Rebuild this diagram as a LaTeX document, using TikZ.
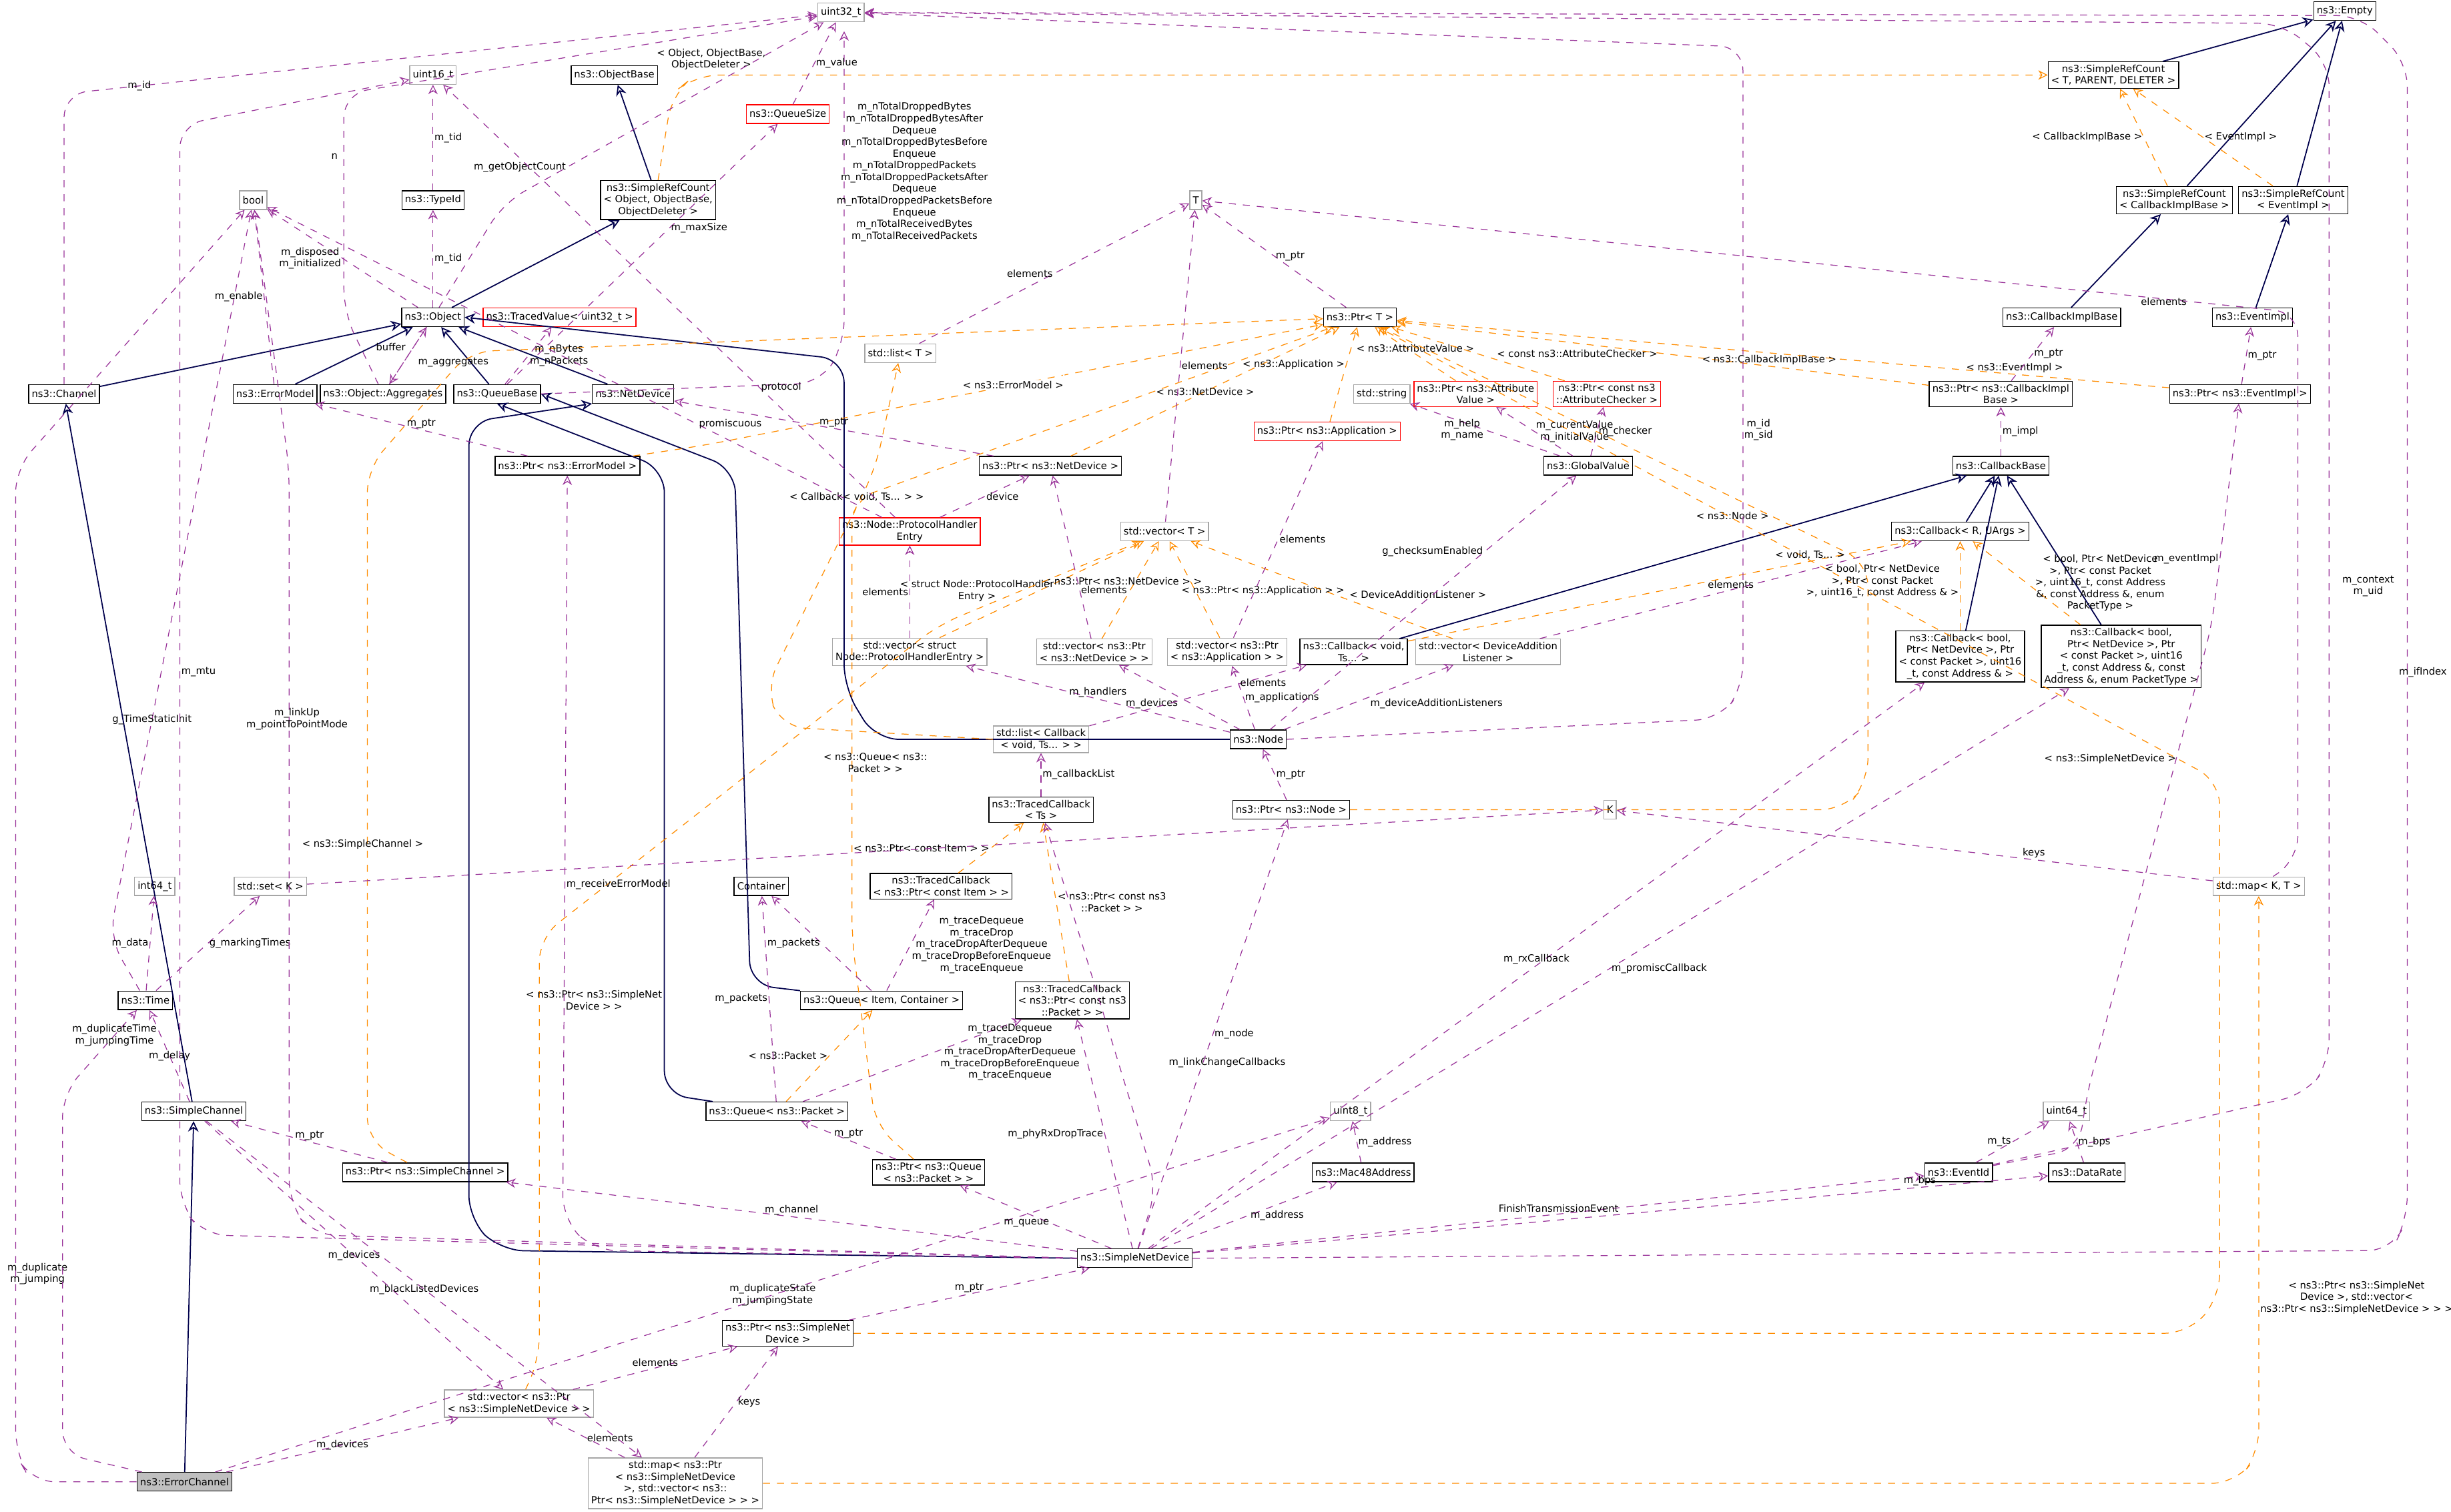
\documentclass[tikz,border=0pt]{standalone}
\usepackage{fontspec}
\setmainfont{DejaVu Sans}
\usetikzlibrary{arrows.meta}
\begin{document}
\begin{tikzpicture}[x=0.02343cm,y=-0.02343cm,
 every node/.style={font=\fontsize{4.2}{5}\selectfont},
 cls/.style={draw=black,fill=white,align=center,inner sep=1.3pt,minimum height=0.28cm,line width=0.4pt},
 gry/.style={cls,draw=gray!70},
 red/.style={cls,draw=red},
 use/.style={draw=violet!80,dashed,rounded corners=10pt,-{Stealth[open,length=4pt,width=4pt]},line width=0.35pt},
 inh/.style={draw=blue!30!black,rounded corners=10pt,-{Stealth[open,length=4.5pt,width=4.5pt]},line width=0.5pt},
 tpl/.style={draw=orange!90!yellow,dashed,rounded corners=10pt,-{Stealth[open,length=4pt,width=4pt]},line width=0.35pt},
 lbl/.style={align=center,inner sep=0.5pt}]
\useasboundingbox (0,0) rectangle (1568,967);
% nodes
\node[gry] (u32) at (538,8) {uint32\_t};
\node[cls] (empty) at (1500,7) {ns3::Empty};
\node[cls] (srcT) at (1352,48) {ns3::SimpleRefCount\\< T, PARENT, DELETER >};
\node[cls] (objbase) at (393,48) {ns3::ObjectBase};
\node[red] (qsize) at (504,73) {ns3::QueueSize};
\node[gry] (u16) at (277,48) {uint16\_t};
\node[cls] (srcObj) at (421,128) {ns3::SimpleRefCount\\< Object, ObjectBase,\\ ObjectDeleter >};
\node[gry] (bool) at (162,128) {bool};
\node[cls] (typeid) at (277,128) {ns3::TypeId};
\node[gry] (T) at (765,128) {T};
\node[cls] (srcCIB) at (1391,128) {ns3::SimpleRefCount\\< CallbackImplBase >};
\node[cls] (srcEI) at (1467,128) {ns3::SimpleRefCount\\< EventImpl >};
\node[cls] (object) at (277,203) {ns3::Object};
\node[red] (tvalue) at (358,203) {ns3::TracedValue< uint32\_t >};
\node[gry] (listT) at (576,226) {std::list< T >};
\node[cls] (ptrT) at (870,203) {ns3::Ptr< T >};
\node[cls] (cib) at (1319,203) {ns3::CallbackImplBase};
\node[cls] (eimpl) at (1441,203) {ns3::EventImpl};
\node[cls] (channel) at (41,252) {ns3::Channel};
\node[cls] (errmodel) at (176,252) {ns3::ErrorModel};
\node[cls] (aggr) at (245,252) {ns3::Object::Aggregates};
\node[cls] (qbase) at (318,252) {ns3::QueueBase};
\node[cls] (netdev) at (405,252) {ns3::NetDevice};
\node[gry] (string) at (884,252) {std::string};
\node[red] (pAV) at (944,252) {ns3::Ptr< ns3::Attribute\\Value >};
\node[red] (pAC) at (1028,252) {ns3::Ptr< const ns3\\::AttributeChecker >};
\node[cls] (pCIB) at (1280,252) {ns3::Ptr< ns3::CallbackImpl\\Base >};
\node[cls] (pEI) at (1433,252) {ns3::Ptr< ns3::EventImpl >};
\node[cls] (pEM) at (363,298) {ns3::Ptr< ns3::ErrorModel >};
\node[cls] (pND) at (672,298) {ns3::Ptr< ns3::NetDevice >};
\node[red] (pApp) at (849,276) {ns3::Ptr< ns3::Application >};
\node[cls] (gvalue) at (1016,298) {ns3::GlobalValue};
\node[cls] (cbase) at (1280,298) {ns3::CallbackBase};
\node[red] (phe) at (582,340) {ns3::Node::ProtocolHandler\\Entry};
\node[gry] (vecT) at (745,340) {std::vector< T >};
\node[cls] (cbRU) at (1254,340) {ns3::Callback< R, UArgs >};
\node[gry] (vPHE) at (582,417) {std::vector< struct\\ Node::ProtocolHandlerEntry >};
\node[gry] (vPND) at (700,417) {std::vector< ns3::Ptr\\< ns3::NetDevice > >};
\node[gry] (vPApp) at (785,417) {std::vector< ns3::Ptr\\< ns3::Application > >};
\node[cls] (cbVoid) at (866,417) {ns3::Callback< void,\\ Ts... >};
\node[gry] (vDAL) at (952,417) {std::vector< DeviceAddition\\Listener >};
\node[cls] (cbBool) at (1254,420) {ns3::Callback< bool,\\ Ptr< NetDevice >, Ptr\\< const Packet >, uint16\\\_t, const Address \& >};
\node[cls] (cbProm) at (1357,420) {ns3::Callback< bool,\\ Ptr< NetDevice >, Ptr\\< const Packet >, uint16\\\_t, const Address \&, const\\ Address \&, enum PacketType >};
\node[cls] (node) at (805,473) {ns3::Node};
\node[gry] (listCb) at (666,473) {std::list< Callback\\< void, Ts... > >};
\node[cls] (pNode) at (826,518) {ns3::Ptr< ns3::Node >};
\node[cls] (tcTs) at (666,518) {ns3::TracedCallback\\< Ts >};
\node[gry] (K) at (1030,518) {K};
\node[gry] (setK) at (173,567) {std::set< K >};
\node[gry] (i64) at (99,567) {int64\_t};
\node[gry] (mapKT) at (1445,567) {std::map< K, T >};
\node[cls] (cont) at (487,567) {Container};
\node[cls] (tcItem) at (602,567) {ns3::TracedCallback\\< ns3::Ptr< const Item > >};
\node[cls] (queueIC) at (564,640) {ns3::Queue< Item, Container >};
\node[cls] (tcPkt) at (686,640) {ns3::TracedCallback\\< ns3::Ptr< const ns3\\::Packet > >};
\node[cls] (time) at (93,640) {ns3::Time};
\node[cls] (schan) at (124,711) {ns3::SimpleChannel};
\node[cls] (queueP) at (497,711) {ns3::Queue< ns3::Packet >};
\node[gry] (u8) at (864,711) {uint8\_t};
\node[gry] (u64) at (1322,711) {uint64\_t};
\node[cls] (pSC) at (272,750) {ns3::Ptr< ns3::SimpleChannel >};
\node[cls] (pQP) at (594,750) {ns3::Ptr< ns3::Queue\\< ns3::Packet > >};
\node[cls] (mac) at (872,750) {ns3::Mac48Address};
\node[cls] (eventid) at (1253,750) {ns3::EventId};
\node[cls] (drate) at (1335,750) {ns3::DataRate};
\node[cls] (snd) at (726,805) {ns3::SimpleNetDevice};
\node[cls] (pSND) at (504,853) {ns3::Ptr< ns3::SimpleNet\\Device >};
\node[gry] (vSND) at (332,898) {std::vector< ns3::Ptr\\< ns3::SimpleNetDevice > >};
\node[gry] (mSND) at (432,949) {std::map< ns3::Ptr\\< ns3::SimpleNetDevice\\ >, std::vector< ns3::\\Ptr< ns3::SimpleNetDevice > > >};
\node[cls,fill=gray!50] (echan) at (118,948) {ns3::ErrorChannel};
% inheritance
\foreach \a/\b in {srcT/empty,srcCIB/empty,srcEI/empty,srcObj/objbase,object/srcObj,channel/object,errmodel/object,qbase/object,netdev/object,cib/srcCIB,eimpl/srcEI,cbVoid/cbase,cbRU/cbase,cbBool/cbase,cbProm/cbase,schan/channel,echan/schan}
 \draw[inh] (\a) -- (\b);
\draw[inh] (node.west) -- (560,473) -- (540,440) -- (540,230) -- (object.east);
\draw[inh] (queueIC) -- (480,630) -- (470,300) -- (qbase.east);
\draw[inh] (queueP) -- (425,700) -- (425,300) -- (qbase.south);
\draw[inh] (snd.west) -- (320,800) -- (300,780) -- (300,270) -- (netdev.south west);
% templates
\draw[tpl] (srcObj.north) -- (430,60) -- (445,48) -- (srcT.west);
\node[lbl] at (455,38) {< Object, ObjectBase,\\ObjectDeleter >};
\draw[tpl] (srcCIB) -- node[lbl,pos=0.5,left]{< CallbackImplBase >} (srcT);
\draw[tpl] (srcEI) -- node[lbl,pos=0.5,right]{< EventImpl >} (srcT);
\draw[tpl] (pEM) -- (450,285) -- node[lbl,pos=0.5,fill=white]{< ns3::ErrorModel >} (ptrT);
\draw[tpl] (pND) -- node[lbl]{< ns3::NetDevice >} (ptrT);
\draw[tpl] (pApp) -- node[lbl,pos=0.6,left]{< ns3::Application >} (ptrT);
\draw[tpl] (pAV) -- node[lbl,pos=0.5,above]{< ns3::AttributeValue >} (ptrT);
\draw[tpl] (pAC) -- node[lbl,pos=0.4,above right]{< const ns3::AttributeChecker >} (ptrT);
\draw[tpl] (pCIB) -- node[lbl,pos=0.3,above]{< ns3::CallbackImplBase >} (ptrT);
\draw[tpl] (pEI) -- node[lbl,pos=0.2,above]{< ns3::EventImpl >} (ptrT);
\draw[tpl] (pNode.east) -- (1180,518) -- (1195,500) -- (1195,360) -- node[lbl,pos=0.2,left]{< ns3::Node >} (ptrT);
\draw[tpl] (pSC) -- (235,730) -- (235,300) -- (300,225) -- (ptrT);
\node[lbl] at (232,540) {< ns3::SimpleChannel >};
\draw[tpl] (pSND.east) -- (1400,853) -- (1420,830) -- (1420,500) -- node[lbl,pos=0.05,left]{< ns3::SimpleNetDevice >} (ptrT);
\draw[tpl] (pQP) -- (560,720) -- (545,600) -- (545,320) -- (ptrT);
\node[lbl] at (560,488) {< ns3::Queue< ns3::\\Packet > >};
\draw[tpl] (listCb.west) -- (500,465) -- (490,440) -- (560,300) -- (listT);
\node[lbl] at (548,318) {< Callback< void, Ts... > >};
\draw[tpl] (vPHE) -- (vecT);
\node[lbl] at (625,378) {< struct Node::ProtocolHandler\\Entry >};
\draw[tpl] (vPND) -- (vecT);
\node[lbl] at (718,372) {< ns3::Ptr< ns3::NetDevice > >};
\draw[tpl] (vPApp) -- (vecT);
\node[lbl] at (808,378) {< ns3::Ptr< ns3::Application > >};
\draw[tpl] (vDAL) -- node[lbl,pos=0.4,above right]{< DeviceAdditionListener >} (vecT);
\draw[tpl] (vSND) -- (345,870) -- (345,600) -- (600,400) -- (vecT);
\node[lbl] at (380,640) {< ns3::Ptr< ns3::SimpleNet\\Device > >};
\draw[tpl] (cbVoid) -- node[lbl,pos=0.8,above]{< void, Ts... >} (cbRU);
\draw[tpl] (cbBool) -- node[lbl,pos=0.55,left]{< bool, Ptr< NetDevice\\>, Ptr< const Packet\\>, uint16\_t, const Address \& >} (cbRU);
\draw[tpl] (cbProm) -- node[lbl,pos=0.5,right=3pt]{< bool, Ptr< NetDevice\\>, Ptr< const Packet\\>, uint16\_t, const Address\\\&, const Address \&, enum\\PacketType >} (cbRU);
\draw[tpl] (tcItem) -- node[lbl,pos=0.5,left]{< ns3::Ptr< const Item > >} (tcTs);
\draw[tpl] (tcPkt) -- node[lbl,pos=0.5,right]{< ns3::Ptr< const ns3\\::Packet > >} (tcTs);
\draw[tpl] (queueP) -- node[lbl,pos=0.5,left]{< ns3::Packet >} (queueIC);
\draw[tpl] (mSND.east) -- (1430,949) -- (1445,930) -- node[lbl,pos=0.28,right]{< ns3::Ptr< ns3::SimpleNet\\Device >, std::vector<\\ns3::Ptr< ns3::SimpleNetDevice > > >} (mapKT);
% usage
\draw[use] (channel) -- (41,60) -- node[lbl,pos=0.1]{m\_id} (u32);
\draw[use] (echan.west) -- (20,948) -- (10,930) -- (10,300) -- (bool);
\node[lbl] at (24,815) {m\_duplicate\\m\_jumping};
\draw[use] (echan) -- (40,930) -- (40,700) -- node[lbl,pos=0.7]{m\_duplicateTime\\m\_jumpingTime} (time);
\draw[use] (echan) -- node[lbl]{m\_duplicateState\\m\_jumpingState} (u8);
\draw[use] (echan) -- node[lbl]{m\_devices} (vSND);
\draw[use] (time) -- (70,600) -- node[lbl,pos=0.3]{g\_TimeStaticInit} (bool);
\draw[use] (time) -- node[lbl,left]{m\_data} (i64);
\draw[use] (time) -- node[lbl,right]{g\_markingTimes} (setK);
\draw[use] (schan) -- node[lbl]{m\_delay} (time);
\draw[use] (schan) -- node[lbl]{m\_devices} (vSND);
\draw[use] (schan) -- node[lbl]{m\_blackListedDevices} (mSND);
\draw[use] (object) -- (322,130) -- node[lbl,pos=0.2,left]{m\_getObjectCount} (u32);
\draw[use] (object) -- node[lbl,pos=0.5,left]{m\_disposed\\m\_initialized} (bool);
\draw[use] (object) -- node[lbl,right]{m\_tid} (typeid);
\draw[use] (object) -- (aggr);
\node[lbl] at (290,232) {m\_aggregates};
\draw[use] (typeid) -- node[lbl,right]{m\_tid} (u16);
\draw[use] (aggr) -- (220,200) -- (220,60) -- (u32);
\node[lbl] at (214,100) {n};
\draw[use] (aggr) -- (object);
\node[lbl] at (250,222) {buffer};
\draw[use] (errmodel) -- node[lbl,left]{m\_enable} (bool);
\draw[use] (qbase) -- node[lbl,pos=0.6,right]{m\_maxSize} (qsize);
\draw[use] (qbase) -- node[lbl,right]{m\_nBytes\\m\_nPackets} (tvalue);
\draw[use] (qbase.east) -- (525,245) -- (540,220) -- (540,20);
\node[lbl] at (585,110) {m\_nTotalDroppedBytes\\m\_nTotalDroppedBytesAfter\\Dequeue\\m\_nTotalDroppedBytesBefore\\Enqueue\\m\_nTotalDroppedPackets\\m\_nTotalDroppedPacketsAfter\\Dequeue\\m\_nTotalDroppedPacketsBefore\\Enqueue\\m\_nTotalReceivedBytes\\m\_nTotalReceivedPackets};
\draw[use] (qsize) -- node[lbl,pos=0.5,right]{m\_value} (u32);
\draw[use] (pEM) -- node[lbl,pos=0.5,above]{m\_ptr} (errmodel);
\draw[use] (pND) -- node[lbl,pos=0.5,above]{m\_ptr} (netdev);
\draw[use] (ptrT) -- node[lbl,pos=0.5,right]{m\_ptr} (T);
\draw[use] (listT) -- node[lbl,pos=0.5,left]{elements} (T);
\draw[use] (vecT) -- node[lbl,pos=0.5,right]{elements} (T);
\draw[use] (phe) -- node[lbl,pos=0.5,right]{device} (pND);
\draw[use] (phe) -- node[lbl,pos=0.3,right]{promiscuous} (bool);
\draw[use] (phe) -- node[lbl,pos=0.3,right]{protocol} (u16);
\draw[use] (vPHE) -- node[lbl,pos=0.5,left]{elements} (phe);
\draw[use] (vPND) -- node[lbl,pos=0.3,right]{elements} (pND);
\draw[use] (vPApp) -- node[lbl,pos=0.5,right]{elements} (pApp);
\draw[use] (vDAL) -- node[lbl,pos=0.5,above]{elements} (cbRU);
\draw[use] (node) -- node[lbl,pos=0.5,above]{m\_handlers} (vPHE);
\draw[use] (node) -- node[lbl,pos=0.5,below left]{m\_devices} (vPND);
\draw[use] (node) -- node[lbl,pos=0.5,right]{m\_applications} (vPApp);
\draw[use] (listCb) -- node[lbl,pos=0.8,below]{elements} (cbVoid);
\draw[use] (node) -- node[lbl,pos=0.5,below right]{m\_deviceAdditionListeners} (vDAL);
\draw[use] (node) -- node[lbl,pos=0.7,left]{g\_checksumEnabled} (gvalue);
\draw[use] (node.east) -- (1100,460) -- (1115,440) -- (1115,30) -- (u32);
\node[lbl] at (1125,275) {m\_id\\m\_sid};
\draw[use] (gvalue) -- node[lbl,pos=0.5,left]{m\_help\\m\_name} (string);
\draw[use] (gvalue) -- node[lbl,pos=0.5,right]{m\_currentValue\\m\_initialValue} (pAV);
\draw[use] (gvalue) -- node[lbl,pos=0.5,right]{m\_checker} (pAC);
\draw[use] (pCIB) -- node[lbl,pos=0.5,right]{m\_ptr} (cib);
\draw[use] (cbase) -- node[lbl,pos=0.5,right]{m\_impl} (pCIB);
\draw[use] (pEI) -- node[lbl,pos=0.5,right]{m\_ptr} (eimpl);
\draw[use] (eventid) -- (1330,735) -- (1335,700) -- (1415,400) -- node[lbl,pos=0.3,left]{m\_eventImpl} (pEI);
\draw[use] (eventid) -- node[lbl,pos=0.5,left]{m\_ts} (u64);
\draw[use] (eventid) -- (1475,700) -- (1490,680) -- (1490,40) -- (1460,15) -- (u32);
\node[lbl] at (1515,375) {m\_context\\m\_uid};
\draw[use] (drate) -- node[lbl,pos=0.5,right]{m\_bps} (u64);
\draw[use] (mac) -- node[lbl,pos=0.5,right]{m\_address} (u8);
\draw[use] (pNode) -- node[lbl,pos=0.5,right]{m\_ptr} (node);
\draw[use] (tcTs) -- node[lbl,pos=0.5,right]{m\_callbackList} (listCb);
\draw[use] (queueIC) -- node[lbl,pos=0.5,left]{m\_packets} (cont);
\draw[use] (queueIC) -- node[lbl,pos=0.5,right]{m\_traceDequeue\\m\_traceDrop\\m\_traceDropAfterDequeue\\m\_traceDropBeforeEnqueue\\m\_traceEnqueue} (tcItem);
\draw[use] (queueP) -- node[lbl,pos=0.5,left]{m\_packets} (cont);
\draw[use] (queueP) -- node[lbl,pos=0.6,right=2pt]{m\_traceDequeue\\m\_traceDrop\\m\_traceDropAfterDequeue\\m\_traceDropBeforeEnqueue\\m\_traceEnqueue} (tcPkt);
\draw[use] (pQP) -- node[lbl,pos=0.5,above]{m\_ptr} (queueP);
\draw[use] (pSC) -- node[lbl,pos=0.5,above]{m\_ptr} (schan);
\draw[use] (pSND) -- node[lbl,pos=0.5,above]{m\_ptr} (snd);
\draw[use] (vSND) -- node[lbl,pos=0.5,above]{elements} (pSND);
\draw[use] (mSND) -- node[lbl,pos=0.5,right]{keys} (pSND);
\draw[use] (mSND) -- node[lbl,pos=0.5,right]{elements} (vSND);
\draw[use] (mapKT) -- node[lbl,pos=0.3,above]{keys} (K);
\draw[use] (mapKT) -- (1470,550) -- (1470,200) -- node[lbl,pos=0.1,left]{elements} (T);
\draw[use] (setK) -- (K);
\draw[use] (snd.west) -- (130,790) -- (115,770) -- (115,80) -- (u16);
\node[lbl] at (127,430) {m\_mtu};
\draw[use] (snd.west) -- (200,790) -- (185,770) -- (185,300) -- (bool);
\node[lbl] at (190,460) {m\_linkUp\\m\_pointToPointMode};
\draw[use] (snd.west) -- (380,800) -- (360,780) -- node[lbl,pos=0.45,right]{m\_receiveErrorModel} (pEM);
\draw[use] (snd) -- node[lbl,pos=0.5,above]{m\_channel} (pSC);
\draw[use] (snd) -- node[lbl,pos=0.4,left]{m\_queue} (pQP);
\draw[use] (snd) -- node[lbl,pos=0.5,left]{m\_phyRxDropTrace} (tcPkt);
\draw[use] (snd) -- (740,760) -- (tcTs);
\node[lbl] at (785,680) {m\_linkChangeCallbacks};
\draw[use] (snd) -- node[lbl,pos=0.5,right]{m\_node} (pNode);
\draw[use] (snd) -- node[lbl,pos=0.5,right]{m\_address} (mac);
\draw[use] (snd) -- node[lbl,pos=0.5,above]{m\_rxCallback} (cbBool);
\draw[use] (snd) -- node[lbl,pos=0.5,right]{m\_promiscCallback} (cbProm);
\draw[use] (snd) -- node[lbl,pos=0.5,above]{FinishTransmissionEvent} (eventid);
\draw[use] (snd) -- node[lbl,pos=0.85,above]{m\_bps} (drate);
\draw[use] (snd.east) -- (1530,800) -- (1540,780) -- (1540,40) -- (1510,10) -- (u32);
\node[lbl] at (1550,430) {m\_ifIndex};
\end{tikzpicture}
\end{document}
